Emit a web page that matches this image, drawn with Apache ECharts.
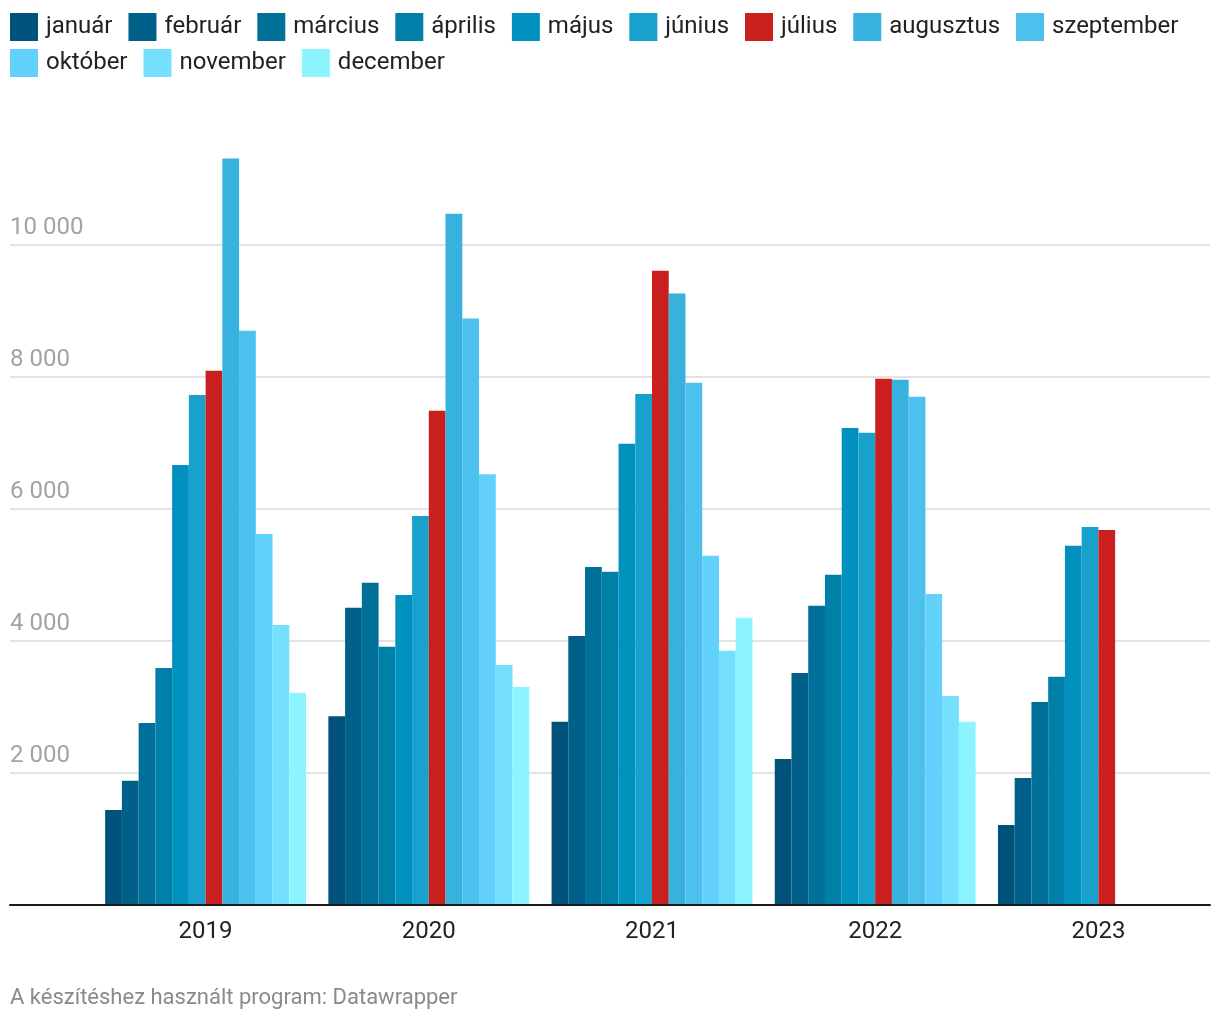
<!DOCTYPE html>
<html>
<head>
<meta charset="utf-8">
<script src="https://cdn.jsdelivr.net/npm/echarts@6/dist/echarts.min.js"></script>
<style>
  html, body { margin: 0; padding: 0; background: #fff; }
  #chart { width: 1220px; height: 1020px; }
</style>
</head>
<body>
<div id="chart"></div>
<script>
// ---- data ----
const years = ['2019', '2020', '2021', '2022', '2023'];
const months = ['január', 'február', 'március', 'április', 'május', 'június', 'július', 'augusztus', 'szeptember', 'október', 'november', 'december'];
const januar     = [1440, 2860, 2775, 2210, 1210];
const februar    = [1880, 4500, 4075, 3515, 1925];
const marcius    = [2755, 4880, 5120, 4530, 3075];
const aprilis    = [3590, 3910, 5045, 5000, 3455];
const majus      = [6665, 4695, 6985, 7225, 5440];
const junius     = [7725, 5890, 7740, 7150, 5725];
const julius     = [8090, 7485, 9605, 7970, 5680];
const augusztus  = [11305, 10470, 9260, 7955, null];
const szeptember = [8695, 8880, 7910, 7695, null];
const oktober    = [5620, 6525, 5290, 4710, null];
const november   = [4240, 3635, 3850, 3165, null];
const december   = [3215, 3300, 4350, 2775, null];
const yTicks = [0, 2000, 4000, 6000, 8000, 10000, 12000];

const monthValues = [januar, februar, marcius, aprilis, majus, junius, julius, augusztus, szeptember, oktober, november, december];
const colors = ['#00527a', '#006089', '#007099', '#0080a9', '#0091be', '#19a1ce', '#c91f1f', '#37b1de', '#4dc1ed', '#62d2fd', '#75e0fe', '#8cf4ff'];

const FONT = 'Roboto';
const chart = echarts.init(document.getElementById('chart'), null, { renderer: 'canvas' });

const gridTop = 112.6, gridBottom = 115;
const fmt = v => String(v).replace(/\B(?=(\d{3})+(?!\d))/g, ' ');

const series = monthValues.map((vals, i) => ({
  name: months[i],
  type: 'bar',
  xAxisIndex: 1,
  yAxisIndex: 1,
  data: vals,
  barGap: '0%',
  barCategoryGap: '10%',
  itemStyle: { color: colors[i] },
  emphasis: { disabled: true }
}));

const legendCommon = {
  left: 10,
  padding: 0,
  itemWidth: 28,
  itemHeight: 28,
  itemGap: 16,
  icon: 'rect',
  selectedMode: true,
  textStyle: { fontFamily: FONT, fontSize: 24, color: '#222', padding: [0, 0, 0, 3] }
};

chart.setOption({
  animation: false,
  backgroundColor: '#fff',
  textStyle: { fontFamily: FONT },
  color: colors,
  legend: [
    Object.assign({ top: 13, data: months.slice(0, 9) }, legendCommon),
    Object.assign({ top: 49, data: months.slice(9) }, legendCommon)
  ],
  grid: [
    { left: 10, right: 10, top: gridTop, bottom: gridBottom, containLabel: false },
    { left: 94, right: 10, top: gridTop, bottom: gridBottom, containLabel: false }
  ],
  xAxis: [
    {
      gridIndex: 0, type: 'category', data: years,
      z: 5,
      axisLine: { show: true, lineStyle: { color: '#1a1a1a', width: 2 } },
      axisTick: { show: false }, axisLabel: { show: false }, splitLine: { show: false }
    },
    {
      gridIndex: 1, type: 'category', data: years,
      axisLine: { show: false }, axisTick: { show: false },
      axisLabel: { show: true, fontFamily: FONT, fontSize: 24, color: '#222', margin: 15 },
      splitLine: { show: false }
    }
  ],
  yAxis: [
    {
      gridIndex: 0, type: 'value', min: yTicks[0], max: yTicks[yTicks.length - 1], interval: 2000,
      axisLine: { show: false }, axisTick: { show: false },
      splitLine: { show: true, showMinLine: false, showMaxLine: false, lineStyle: { color: '#e3e3e3', width: 2 } },
      axisLabel: {
        inside: true, margin: 0, fontFamily: FONT, fontSize: 24, color: '#a3a3a3',
        verticalAlign: 'bottom', padding: [0, 0, 5, 0],
        formatter: v => (v === 0 || v >= 12000) ? '' : fmt(v)
      }
    },
    {
      gridIndex: 1, type: 'value', min: yTicks[0], max: yTicks[yTicks.length - 1], interval: 2000,
      axisLine: { show: false }, axisTick: { show: false }, axisLabel: { show: false },
      splitLine: { show: false }
    }
  ],
  graphic: [
    {
      type: 'text', left: 10, top: 987,
      style: { text: 'A készítéshez használt program: Datawrapper', fontFamily: FONT, fontSize: 22, fill: '#8a8a8a' }
    }
  ],
  series: series
});
</script>
</body>
</html>
